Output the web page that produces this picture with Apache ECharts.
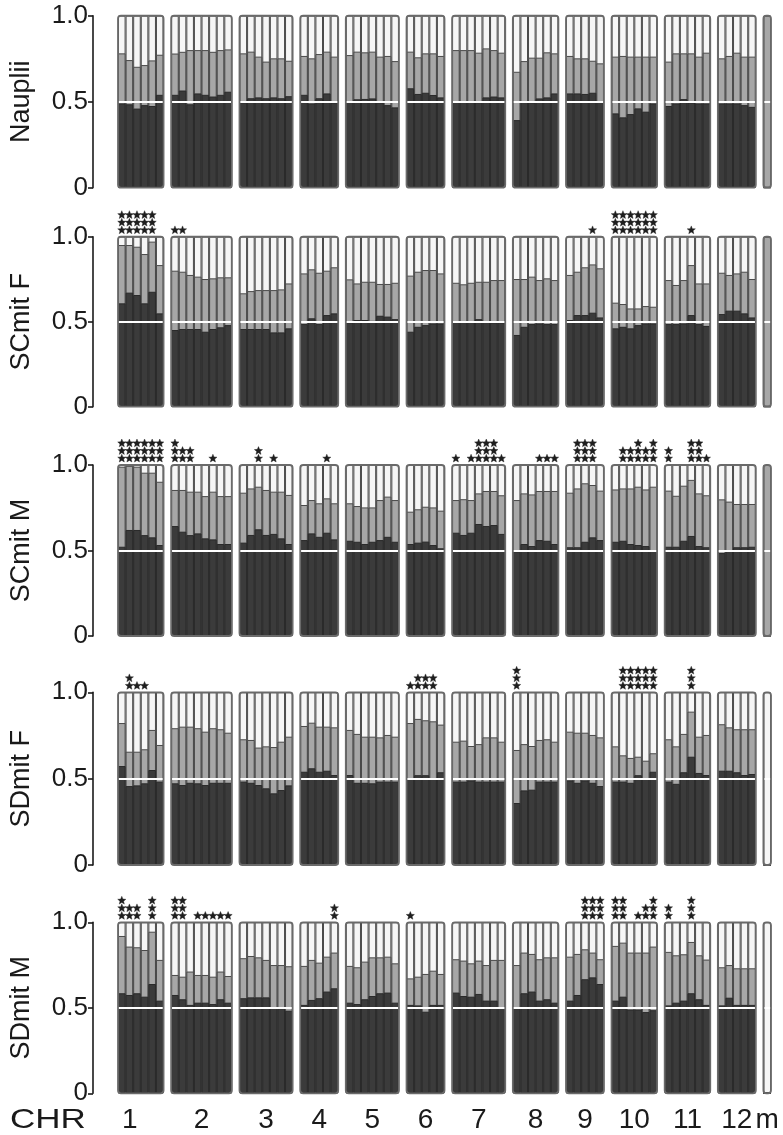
<!DOCTYPE html>
<html><head><meta charset="utf-8">
<script src="https://cdn.jsdelivr.net/npm/echarts@6/dist/echarts.min.js"></script>
<style>html,body{margin:0;padding:0;background:#fff}#c{width:783px;height:1135px}</style>
</head><body><div id="c"></div>
<script>
// ---------------- DATA ----------------
const panelNames = ['Nauplii', 'SCmit F', 'SCmit M', 'SDmit F', 'SDmit M'];
const axisTitle = 'CHR';
const groupLabels = ['1', '2', '3', '4', '5', '6', '7', '8', '9', '10', '11', '12', 'm'];
const groupSizes = [6, 8, 7, 5, 7, 5, 7, 6, 5, 6, 6, 5, 1];
const yTickValues = [0, 0.5, 1];
const yTickLabels = ['0', '0.5', '1.0'];

// top of dark segment (cumulative fraction), one value per bar, last = m
const naupliiDark = [
  0.49, 0.485, 0.46, 0.48, 0.475, 0.54,
  0.54, 0.565, 0.485, 0.548, 0.54, 0.53, 0.54, 0.558,
  0.495, 0.52, 0.525, 0.52, 0.525, 0.52, 0.532,
  0.54, 0.49, 0.52, 0.548, 0.495,
  0.5, 0.514, 0.516, 0.519, 0.495, 0.48, 0.467,
  0.578, 0.545, 0.552, 0.539, 0.525,
  0.5, 0.5, 0.5, 0.497, 0.525, 0.53, 0.525,
  0.393, 0.5, 0.495, 0.519, 0.525, 0.548,
  0.548, 0.548, 0.545, 0.552, 0.5,
  0.432, 0.409, 0.428, 0.461, 0.442, 0.49,
  0.475, 0.49, 0.515, 0.495, 0.49, 0.49,
  0.49, 0.49, 0.49, 0.48, 0.47,
  0];
// top of medium segment (cumulative fraction)
const naupliiMid = [
  0.781, 0.742, 0.703, 0.713, 0.74, 0.773,
  0.78, 0.79, 0.8, 0.8, 0.8, 0.79, 0.8, 0.804,
  0.781, 0.791, 0.762, 0.733, 0.752, 0.752, 0.738,
  0.766, 0.752, 0.777, 0.791, 0.762,
  0.771, 0.791, 0.787, 0.791, 0.762, 0.766, 0.736,
  0.791, 0.758, 0.781, 0.781, 0.766,
  0.8, 0.8, 0.8, 0.785, 0.81, 0.8, 0.785,
  0.674, 0.736, 0.756, 0.756, 0.787, 0.781,
  0.766, 0.752, 0.752, 0.738, 0.723,
  0.762, 0.766, 0.762, 0.762, 0.762, 0.762,
  0.733, 0.781, 0.781, 0.781, 0.762, 0.785,
  0.752, 0.766, 0.785, 0.762, 0.762,
  1];
const naupliiStars = [
  0,0,0,0,0,0, 0,0,0,0,0,0,0,0, 0,0,0,0,0,0,0, 0,0,0,0,0, 0,0,0,0,0,0,0,
  0,0,0,0,0, 0,0,0,0,0,0,0, 0,0,0,0,0,0, 0,0,0,0,0, 0,0,0,0,0,0,
  0,0,0,0,0,0, 0,0,0,0,0, 0];

const scFDark = [
  0.608, 0.671, 0.657, 0.608, 0.676, 0.549,
  0.451, 0.457, 0.457, 0.457, 0.441, 0.457, 0.467, 0.48,
  0.457, 0.457, 0.457, 0.457, 0.437, 0.437, 0.461,
  0.486, 0.52, 0.486, 0.539, 0.549,
  0.495, 0.51, 0.51, 0.505, 0.535, 0.53, 0.515,
  0.441, 0.47, 0.48, 0.49, 0.49,
  0.5, 0.5, 0.5, 0.515, 0.5, 0.495, 0.495,
  0.422, 0.47, 0.486, 0.49, 0.486, 0.486,
  0.51, 0.539, 0.539, 0.553, 0.525,
  0.461, 0.47, 0.461, 0.48, 0.49, 0.49,
  0.486, 0.486, 0.49, 0.539, 0.486, 0.475,
  0.545, 0.565, 0.565, 0.549, 0.525,
  0];
const scFMid = [
  0.951, 0.951, 0.941, 0.898, 0.971, 0.833,
  0.8, 0.794, 0.775, 0.765, 0.751, 0.755, 0.761, 0.761,
  0.667, 0.68, 0.686, 0.686, 0.686, 0.69, 0.725,
  0.784, 0.808, 0.788, 0.8, 0.82,
  0.749, 0.725, 0.735, 0.735, 0.722, 0.722, 0.729,
  0.771, 0.794, 0.804, 0.804, 0.784,
  0.729, 0.72, 0.729, 0.735, 0.735, 0.745, 0.745,
  0.751, 0.751, 0.765, 0.745, 0.755, 0.745,
  0.775, 0.794, 0.82, 0.837, 0.814,
  0.612, 0.604, 0.578, 0.578, 0.592, 0.588,
  0.745, 0.716, 0.745, 0.833, 0.725, 0.725,
  0.788, 0.775, 0.784, 0.794, 0.751,
  1];
const scFStars = [
  3,3,3,3,3,0, 1,1,0,0,0,0,0,0, 0,0,0,0,0,0,0, 0,0,0,0,0, 0,0,0,0,0,0,0,
  0,0,0,0,0, 0,0,0,0,0,0,0, 0,0,0,0,0,0, 0,0,0,1,0, 3,3,3,3,3,3,
  0,0,0,1,0,0, 0,0,0,0,0, 0];

const scMDark = [
  0.522, 0.62, 0.62, 0.59, 0.577, 0.532,
  0.643, 0.61, 0.59, 0.6, 0.571, 0.565, 0.538, 0.538,
  0.546, 0.591, 0.624, 0.591, 0.597, 0.571, 0.538,
  0.561, 0.6, 0.58, 0.604, 0.565,
  0.557, 0.551, 0.538, 0.551, 0.561, 0.58, 0.551,
  0.538, 0.546, 0.552, 0.532, 0.513,
  0.604, 0.591, 0.604, 0.655, 0.643, 0.649, 0.597,
  0.495, 0.538, 0.526, 0.561, 0.557, 0.538,
  0.519, 0.519, 0.551, 0.577, 0.561,
  0.551, 0.557, 0.538, 0.532, 0.526, 0.5,
  0.522, 0.522, 0.557, 0.585, 0.526, 0.519,
  0.485, 0.5, 0.519, 0.519, 0.522,
  0];
const scMMid = [
  0.99, 0.995, 0.99, 0.955, 0.955, 0.902,
  0.854, 0.854, 0.844, 0.844, 0.818, 0.844, 0.818, 0.818,
  0.838, 0.863, 0.873, 0.854, 0.844, 0.844, 0.825,
  0.766, 0.795, 0.776, 0.805, 0.776,
  0.776, 0.76, 0.752, 0.752, 0.795, 0.815, 0.795,
  0.727, 0.741, 0.756, 0.752, 0.733,
  0.795, 0.8, 0.795, 0.834, 0.848, 0.848, 0.823,
  0.795, 0.834, 0.828, 0.848, 0.848, 0.848,
  0.838, 0.863, 0.893, 0.883, 0.85,
  0.857, 0.863, 0.863, 0.873, 0.857, 0.873,
  0.85, 0.82, 0.879, 0.913, 0.834, 0.823,
  0.799, 0.786, 0.772, 0.772, 0.772,
  1];
const scMStars = [
  3,3,3,3,3,3, 3,2,2,0,0,1,0,0, 0,0,2,0,1,0,0, 0,0,0,1,0, 0,0,0,0,0,0,0,
  0,0,0,0,0, 1,0,1,3,3,3,1, 0,0,0,1,1,1, 0,3,3,3,0, 0,2,2,3,2,3,
  2,0,0,3,3,1, 0,0,0,0,0, 0];

const sdFDark = [
  0.573, 0.457, 0.461, 0.473, 0.55, 0.483,
  0.473, 0.463, 0.476, 0.473, 0.463, 0.476, 0.476, 0.476,
  0.483, 0.476, 0.463, 0.444, 0.415, 0.434, 0.461,
  0.54, 0.56, 0.54, 0.546, 0.521,
  0.521, 0.476, 0.476, 0.473, 0.483, 0.483, 0.483,
  0.5, 0.52, 0.52, 0.5, 0.537,
  0.483, 0.483, 0.49, 0.483, 0.483, 0.483, 0.483,
  0.359, 0.432, 0.436, 0.483, 0.483, 0.483,
  0.49, 0.476, 0.49, 0.476, 0.457,
  0.483, 0.483, 0.476, 0.52, 0.5, 0.54,
  0.483, 0.47, 0.537, 0.627, 0.533, 0.521,
  0.546, 0.546, 0.537, 0.521, 0.527,
  0];
const sdFMid = [
  0.822, 0.656, 0.656, 0.67, 0.782, 0.695,
  0.792, 0.801, 0.801, 0.792, 0.772, 0.792, 0.786, 0.766,
  0.728, 0.724, 0.68, 0.687, 0.683, 0.714, 0.743,
  0.805, 0.824, 0.801, 0.801, 0.797,
  0.782, 0.759, 0.743, 0.743, 0.739, 0.753, 0.743,
  0.822, 0.846, 0.838, 0.832, 0.813,
  0.714, 0.72, 0.689, 0.7, 0.739, 0.739, 0.714,
  0.666, 0.7, 0.689, 0.724, 0.728, 0.714,
  0.772, 0.766, 0.766, 0.753, 0.739,
  0.687, 0.635, 0.62, 0.627, 0.604, 0.647,
  0.728, 0.687, 0.759, 0.888, 0.743, 0.753,
  0.815, 0.797, 0.786, 0.786, 0.786,
  0];
const sdFStars = [
  0,2,1,1,0,0, 0,0,0,0,0,0,0,0, 0,0,0,0,0,0,0, 0,0,0,0,0, 0,0,0,0,0,0,0,
  1,2,2,2,0, 0,0,0,0,0,0,0, 3,0,0,0,0,0, 0,0,0,0,0, 0,3,3,3,3,3,
  0,0,0,3,0,0, 0,0,0,0,0, 0];

const sdMDark = [
  0.585, 0.575, 0.585, 0.565, 0.639, 0.542,
  0.575, 0.55, 0.517, 0.53, 0.53, 0.522, 0.55, 0.53,
  0.556, 0.561, 0.561, 0.561, 0.5, 0.495, 0.483,
  0.517, 0.546, 0.556, 0.595, 0.614,
  0.53, 0.522, 0.55, 0.569, 0.585, 0.589, 0.53,
  0.517, 0.514, 0.477, 0.517, 0.517,
  0.589, 0.569, 0.565, 0.581, 0.542, 0.542, 0.5,
  0.495, 0.585, 0.595, 0.542, 0.55, 0.53,
  0.542, 0.575, 0.667, 0.678, 0.639,
  0.542, 0.565, 0.49, 0.49, 0.475, 0.486,
  0.514, 0.53, 0.542, 0.585, 0.55, 0.517,
  0.514, 0.559, 0.517, 0.517, 0.517,
  0];
const sdMMid = [
  0.92, 0.858, 0.854, 0.838, 0.945, 0.78,
  0.692, 0.682, 0.712, 0.692, 0.692, 0.682, 0.712, 0.686,
  0.79, 0.803, 0.795, 0.78, 0.75, 0.75, 0.743,
  0.745, 0.78, 0.764, 0.799, 0.823,
  0.745, 0.737, 0.77, 0.795, 0.795, 0.799, 0.76,
  0.672, 0.682, 0.698, 0.717, 0.698,
  0.784, 0.776, 0.76, 0.776, 0.75, 0.78, 0.78,
  0.75, 0.823, 0.815, 0.784, 0.795, 0.795,
  0.799, 0.815, 0.842, 0.823, 0.784,
  0.862, 0.881, 0.823, 0.823, 0.823, 0.858,
  0.827, 0.807, 0.813, 0.885, 0.807, 0.782,
  0.737, 0.75, 0.731, 0.731, 0.731,
  0];
const sdMStars = [
  3,2,2,0,3,0, 3,3,0,1,1,1,1,1, 0,0,0,0,0,0,0, 0,0,0,0,2, 0,0,0,0,0,0,0,
  1,0,0,0,0, 0,0,0,0,0,0,0, 0,0,0,0,0,0, 0,0,3,3,3, 3,3,0,1,2,3,
  2,0,0,3,0,0, 0,0,0,0,0, 0];

const panelDark = [naupliiDark, scFDark, scMDark, sdFDark, sdMDark];
const panelMid = [naupliiMid, scFMid, scMMid, sdFMid, sdMMid];
const panelStars = [naupliiStars, scFStars, scMStars, sdFStars, sdMStars];

// ---------------- LAYOUT ----------------
const gridTops = [15.7, 236.7, 465, 692.3, 922.3];
const gridHeights = [172, 170, 171, 172.7, 171];
const gridLeft = 115, gridRight = 12;
const FONT = 'Liberation Sans, Arial, Helvetica, sans-serif';
const C_DARK = '#3b3b3b', C_MID = '#a7a7a7', C_LIGHT = '#f6f6f6', C_EDGE = '#4a4a4a';

// category slots: bars plus one empty spacer between groups
const cats = [], barCat = [], groupRange = [];
let ci = 0;
groupSizes.forEach((n, g) => {
  if (g > 0) { cats.push('sp' + g); ci++; }
  const s = ci;
  for (let i = 0; i < n; i++) { barCat.push(ci); cats.push('b' + ci); ci++; }
  groupRange.push([s, ci - 1, g]);
});
function slot(arr) {
  const out = cats.map(() => '-');
  arr.forEach((v, i) => { out[barCat[i]] = v; });
  return out;
}
const fullBars = slot(barCat.map(() => 1));

function starPoints(cx, cy, R, r) {
  const pts = [];
  for (let k = 0; k < 10; k++) {
    const a = -Math.PI / 2 + k * Math.PI / 5;
    const rad = k % 2 === 0 ? R : r;
    pts.push([cx + rad * Math.cos(a), cy + rad * Math.sin(a)]);
  }
  return pts;
}

const grids = [], xAxes = [], yAxes = [], series = [];
panelNames.forEach((name, p) => {
  grids.push({ left: gridLeft, right: gridRight, top: gridTops[p], height: gridHeights[p], containLabel: false });
  xAxes.push({ type: 'category', gridIndex: p, data: cats, show: false, boundaryGap: true });
  yAxes.push({
    type: 'value', gridIndex: p, min: 0, max: 1, interval: 0.5, offset: 25,
    name: name, nameLocation: 'middle', nameGap: 58,
    nameTextStyle: { fontSize: 27, color: '#1a1a1a', fontFamily: FONT },
    axisLine: { show: true, lineStyle: { color: '#1a1a1a', width: 1.6 } },
    axisTick: { show: true, length: 5, lineStyle: { color: '#1a1a1a', width: 1.6 } },
    axisLabel: {
      fontSize: 26, color: '#1a1a1a', fontFamily: FONT, margin: 5,
      formatter: v => yTickLabels[yTickValues.indexOf(v)]
    },
    splitLine: { show: false }
  });
  const common = { type: 'bar', xAxisIndex: p, yAxisIndex: p, barGap: '-100%', barCategoryGap: 0, silent: true, animation: false };
  series.push(Object.assign({}, common, {
    name: name + ' light', data: fullBars,
    itemStyle: { color: C_LIGHT, borderColor: C_EDGE, borderWidth: 1 }
  }));
  series.push(Object.assign({}, common, {
    name: name + ' mid', data: slot(panelMid[p]),
    itemStyle: { color: C_MID, borderColor: C_EDGE, borderWidth: 1 }
  }));
  series.push(Object.assign({}, common, {
    name: name + ' dark', data: slot(panelDark[p]),
    itemStyle: { color: C_DARK, borderColor: '#2a2a2a', borderWidth: 1 },
    markLine: {
      silent: true, symbol: 'none', label: { show: false }, animation: false,
      lineStyle: { color: '#ffffff', width: 2, type: 'solid' },
      data: [{ yAxis: 0.5 }]
    }
  }));
  // group frames
  series.push({
    type: 'custom', xAxisIndex: p, yAxisIndex: p, silent: true, animation: false, z: 5,
    data: groupRange.map(g => [g[0], g[1]]),
    renderItem: (params, api) => {
      const w = api.size([1, 0])[0];
      const a = api.coord([api.value(0), 1]);
      const b = api.coord([api.value(1), 0]);
      return {
        type: 'rect',
        shape: { x: a[0] - w / 2, y: a[1], width: b[0] - a[0] + w, height: b[1] - a[1], r: 3 },
        style: { fill: 'none', stroke: '#6a6a6a', lineWidth: 1.8 }
      };
    }
  });
  // significance stars
  const starData = [];
  panelStars[p].forEach((n, i) => { if (n > 0) starData.push([barCat[i], n]); });
  series.push({
    type: 'custom', xAxisIndex: p, yAxisIndex: p, silent: true, animation: false, clip: false, z: 6,
    data: starData,
    renderItem: (params, api) => {
      const c = api.coord([api.value(0), 1]);
      const n = api.value(1);
      const children = [];
      for (let k = 0; k < n; k++) {
        children.push({
          type: 'polygon',
          shape: { points: starPoints(c[0], c[1] - 6.5 - 7.6 * k, 4.3, 1.9) },
          style: { fill: '#1e1e1e', stroke: '#1e1e1e', lineWidth: 0.4 }
        });
      }
      return { type: 'group', children: children };
    }
  });
});

// chromosome labels under the bottom panel
const last = panelNames.length - 1;
series.push({
  type: 'custom', xAxisIndex: last, yAxisIndex: last, silent: true, animation: false, clip: false,
  data: groupRange.map(g => [g[0], g[1], g[2]]),
  renderItem: (params, api) => {
    const a = api.coord([api.value(0), 0]);
    const b = api.coord([api.value(1), 0]);
    const gi = api.value(2);
    const cx = (a[0] + b[0]) / 2;
    const children = [{
      type: 'text',
      style: {
        text: groupLabels[gi], x: cx - (gi === 0 ? 11 : 0), y: a[1] + 27,
        align: 'center', verticalAlign: 'middle',
        fontSize: 28, fontFamily: FONT, fill: '#1a1a1a'
      }
    }];
    if (gi === 0) {
      children.push({
        type: 'text',
        style: {
          text: axisTitle, x: a[0] - 36, y: a[1] + 27,
          align: 'right', verticalAlign: 'middle',
          fontSize: 28, fontFamily: FONT, fill: '#1a1a1a'
        },
        scaleX: 1.25, originX: a[0] - 36, originY: a[1] + 27
      });
    }
    return { type: 'group', children: children };
  }
});

const chart = echarts.init(document.getElementById('c'), null, { renderer: 'canvas' });
chart.setOption({
  backgroundColor: '#ffffff',
  animation: false,
  grid: grids, xAxis: xAxes, yAxis: yAxes, series: series
});
</script></body></html>
